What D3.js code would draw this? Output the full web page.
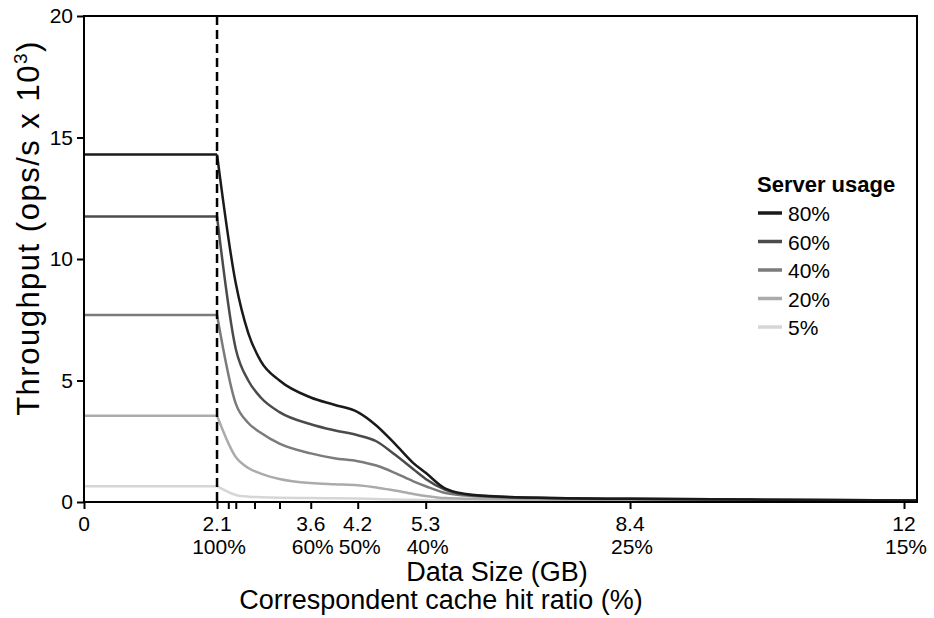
<!DOCTYPE html>
<html>
<head>
<meta charset="utf-8">
<script src="https://cdn.jsdelivr.net/npm/d3@7"></script>
<style>
  body { margin: 0; background: #fff; }
  svg { font-family: 'Liberation Sans', Arial, sans-serif; }
</style>
</head>
<body>
<div class="canvas"></div>
<script>
// data
const sizeGB = [0, 2.1, 2.4, 2.6, 2.8, 3.1, 3.6, 3.9, 4.2, 4.5, 4.8, 5.1, 5.3, 5.6, 6.0, 7.0, 8.4, 10, 12.17];
const usage80 = [14.3, 14.3, 9.0, 6.95, 5.8, 5.0, 4.3, 4.0, 3.7, 3.15, 2.4, 1.6, 1.2, 0.55, 0.3, 0.17, 0.13, 0.1, 0.06];
const usage60 = [11.75, 11.75, 6.3, 5.0, 4.3, 3.7, 3.2, 2.95, 2.75, 2.5, 1.95, 1.35, 0.95, 0.5, 0.28, 0.17, 0.13, 0.1, 0.06];
const usage40 = [7.7, 7.7, 4.05, 3.25, 2.85, 2.4, 2.0, 1.8, 1.68, 1.5, 1.2, 0.85, 0.65, 0.37, 0.25, 0.16, 0.12, 0.09, 0.05];
const usage20 = [3.55, 3.55, 1.85, 1.4, 1.17, 0.95, 0.78, 0.73, 0.69, 0.6, 0.47, 0.33, 0.25, 0.16, 0.13, 0.1, 0.08, 0.06, 0.04];
const usage5 = [0.65, 0.65, 0.29, 0.22, 0.2, 0.18, 0.16, 0.15, 0.14, 0.12, 0.1, 0.09, 0.08, 0.07, 0.06, 0.05, 0.04, 0.04, 0.03];

const usageLabels = ['80%', '60%', '40%', '20%', '5%'];
const usageSeries = [usage80, usage60, usage40, usage20, usage5];
const usageColors = ['#1a1a1a', '#4b4b4b', '#7b7b7b', '#ababab', '#d6d6d6'];

const xTickValues = [0, 2.1, 3.6, 4.2, 5.3, 8.4, 12];
const hitRatioLabels = ['', '100%', '60%', '50%', '40%', '25%', '15%'];
const xMinorTicks = [2.28, 2.4, 2.7, 3.1];
const yTickValues = [0, 5, 10, 15, 20];
const cacheLimitGB = 2.1;

const marginLeft = 84, marginTop = 16, width = 833, height = 486;

const svg = d3.select('.canvas').append('svg')
    .attr('width', 934)
    .attr('height', 618);

const g = svg.append('g')
    .attr('transform', `translate(${marginLeft},${marginTop})`);

// x axis is not evenly spaced in the original, so piecewise linear
const xBreaks = [0, 2.1, 3.6, 4.2, 5.3, 8.4, 12, 12.17];
const xFrac = [0, .1597, .2722, .3286, .4102, .6555, .9844, 1];
const x = d3.scaleLinear()
    .domain(xBreaks)
    .range(xFrac.map(f => f * width));

const y = d3.scaleLinear()
    .domain([0, 20])
    .range([height, 0]);

// lines: flat part straight, the drop smoothed
const flatLine = d3.line()
    .x(d => x(d[0]))
    .y(d => y(d[1]));
const dropLine = d3.line()
    .x(d => x(d[0]))
    .y(d => y(d[1]))
    .curve(d3.curveMonotoneX);

usageSeries.slice().reverse().forEach((vals, i) => {
    const color = usageColors[usageSeries.length - 1 - i];
    const pts = sizeGB.map((s, j) => [s, vals[j]]);
    g.append('path')
        .attr('d', flatLine(pts.filter(p => p[0] <= cacheLimitGB)))
        .attr('fill', 'none')
        .attr('stroke', color)
        .attr('stroke-width', 2.5);
    g.append('path')
        .attr('d', dropLine(pts.filter(p => p[0] >= cacheLimitGB)))
        .attr('fill', 'none')
        .attr('stroke', color)
        .attr('stroke-width', 2.5);
});

// dashed marker at 2.1 GB
g.append('line')
    .attr('x1', x(cacheLimitGB))
    .attr('x2', x(cacheLimitGB))
    .attr('y1', 0)
    .attr('y2', height)
    .attr('stroke', '#000')
    .attr('stroke-width', 2.5)
    .attr('stroke-dasharray', '9,5');

// frame
g.append('rect')
    .attr('width', width)
    .attr('height', height)
    .attr('fill', 'none')
    .attr('stroke', '#000')
    .attr('stroke-width', 2);

// y axis
const yAxis = g.append('g')
    .call(d3.axisLeft(y).tickValues(yTickValues).tickSize(7).tickPadding(4));
yAxis.select('.domain').remove();
yAxis.selectAll('line').attr('stroke-width', 2);
yAxis.selectAll('text')
    .attr('font-size', 21)
    .attr('font-family', 'Liberation Sans, Arial, sans-serif')
    .attr('fill', '#000');

// x axis, major and minor ticks
const xAxis = g.append('g')
    .attr('transform', `translate(0,${height})`)
    .call(d3.axisBottom(x).tickValues(xTickValues).tickSize(7).tickFormat(d => d));
xAxis.select('.domain').remove();
xAxis.selectAll('line').attr('stroke-width', 2);
xAxis.selectAll('text').remove();

g.append('g')
    .attr('transform', `translate(0,${height})`)
    .call(d3.axisBottom(x).tickValues(xMinorTicks).tickSize(7).tickFormat(''))
    .call(a => a.select('.domain').remove())
    .selectAll('line').attr('stroke-width', 2);

const xLabels = g.append('g');
xLabels.selectAll('text.gb')
    .data(xTickValues)
    .join('text')
    .attr('class', 'gb')
    .attr('x', d => x(d))
    .attr('y', height + 29)
    .attr('text-anchor', 'middle')
    .attr('font-size', 21)
    .text(d => d);
xLabels.selectAll('text.hit')
    .data(xTickValues)
    .join('text')
    .attr('class', 'hit')
    .attr('x', d => x(d) + 2)
    .attr('y', height + 52)
    .attr('text-anchor', 'middle')
    .attr('font-size', 21)
    .text((d, i) => hitRatioLabels[i]);

// axis titles
svg.append('text')
    .attr('x', 497)
    .attr('y', 581)
    .attr('text-anchor', 'middle')
    .attr('font-size', 27)
    .text('Data Size (GB)');
svg.append('text')
    .attr('x', 441)
    .attr('y', 609)
    .attr('text-anchor', 'middle')
    .attr('font-size', 27)
    .text('Correspondent cache hit ratio (%)');

const yTitle = svg.append('text')
    .attr('transform', 'translate(39,228) rotate(-90)')
    .attr('text-anchor', 'middle')
    .attr('font-size', 31)
    .attr('letter-spacing', 1.5);
yTitle.append('tspan').text('Throughput (ops/s x 10');
yTitle.append('tspan').attr('dy', -12).attr('font-size', 19).text('3');
yTitle.append('tspan').attr('dy', 12).text(')');

// legend
const legend = svg.append('g')
    .attr('transform', 'translate(757,192)');
legend.append('text')
    .attr('x', 0)
    .attr('y', 0)
    .attr('font-size', 22)
    .attr('font-weight', 'bold')
    .text('Server usage');
const items = legend.selectAll('g.item')
    .data(usageLabels)
    .join('g')
    .attr('class', 'item')
    .attr('transform', (d, i) => `translate(0,${21 + i * 28.5})`);
items.append('line')
    .attr('x1', 1)
    .attr('x2', 25)
    .attr('stroke', (d, i) => usageColors[i])
    .attr('stroke-width', 3.5);
items.append('text')
    .attr('x', 31)
    .attr('y', 8)
    .attr('font-size', 21)
    .text(d => d);
</script>
</body>
</html>
